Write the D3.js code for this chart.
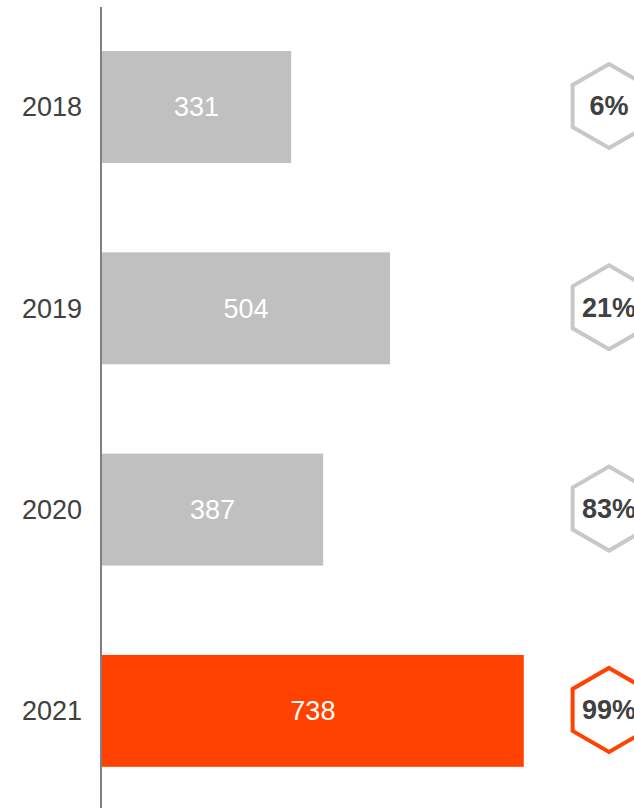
<!DOCTYPE html>
<html>
<head>
<meta charset="utf-8">
<script src="https://cdn.jsdelivr.net/npm/d3@7"></script>
<style>
  body { margin: 0; background: #fff; }
  svg { display: block; font-family: "Liberation Sans", Arial, sans-serif; }
</style>
</head>
<body>
<script>
// data
var years = ['2018', '2019', '2020', '2021'];
var values = [331, 504, 387, 738];
var shares = ['6%', '21%', '83%', '99%'];
var highlight = ['2021'];

var width = 634, height = 808;
var grey = '#c0c0c0', orange = '#ff4200', textColor = '#404040';

var svg = d3.select('body').append('svg')
    .attr('width', width)
    .attr('height', height);

//scales
var xScale = d3.scaleLinear().domain([0, 1000]).range([102, 673.5]);
var yScale = d3.scaleBand().domain(years).range([6.35, 811.55])
    .paddingInner(0.444).paddingOuter(0.222);

var dataset = years.map(function (y, i) {
    return {year: y, value: values[i], share: shares[i], hot: highlight.indexOf(y) >= 0};
});

//bars
svg.selectAll('rect.bar')
    .data(dataset)
    .enter().append('rect')
    .attr('class', 'bar')
    .attr('x', xScale(0))
    .attr('y', function (d) { return yScale(d.year); })
    .attr('width', function (d) { return xScale(d.value) - xScale(0); })
    .attr('height', yScale.bandwidth())
    .attr('fill', function (d) { return d.hot ? orange : grey; });

//value labels
svg.selectAll('text.val')
    .data(dataset)
    .enter().append('text')
    .attr('class', 'val')
    .attr('x', function (d) { return (xScale(0) + xScale(d.value)) / 2; })
    .attr('y', function (d) { return yScale(d.year) + yScale.bandwidth() / 2; })
    .attr('dy', '0.35em')
    .attr('text-anchor', 'middle')
    .attr('fill', '#fff')
    .style('font-size', '27px')
    .text(function (d) { return d.value; });

//y axis
var yAxis = d3.axisLeft(yScale).tickSize(0).tickPadding(19);
var axisG = svg.append('g')
    .attr('transform', 'translate(101,0)')
    .call(yAxis);
axisG.select('.domain').remove();
axisG.selectAll('text')
    .style('font-size', '27px')
    .attr('dy', '0.35em')
    .attr('fill', textColor);

svg.append('line')
    .attr('x1', 101).attr('x2', 101)
    .attr('y1', 7).attr('y2', height)
    .attr('stroke', '#808080')
    .attr('stroke-width', 2);

//hexagons
var r = 42;
var hexPoints = d3.range(6).map(function (k) {
    var a = Math.PI / 3 * k - Math.PI / 2;
    return [r * Math.cos(a), r * Math.sin(a)];
});
var hex = svg.selectAll('g.hex')
    .data(dataset)
    .enter().append('g')
    .attr('class', 'hex')
    .attr('transform', function (d) {
        return 'translate(609,' + (yScale(d.year) + yScale.bandwidth() / 2 - 1) + ')';
    });
hex.append('polygon')
    .attr('points', hexPoints.map(function (p) { return p.join(','); }).join(' '))
    .attr('fill', '#fff')
    .attr('stroke', function (d) { return d.hot ? orange : '#c8c8c8'; })
    .attr('stroke-width', 4);
hex.append('text')
    .attr('text-anchor', 'middle')
    .attr('dy', '0.35em')
    .attr('fill', textColor)
    .style('font-size', '27px')
    .style('font-weight', 'bold')
    .text(function (d) { return d.share; });
</script>
</body>
</html>
